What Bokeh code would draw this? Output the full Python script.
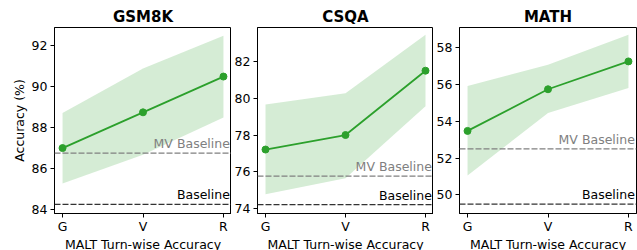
from bokeh.plotting import figure
from bokeh.layouts import row
from bokeh.models import FixedTicker, Span, Range1d, Label
from bokeh.embed import file_html
from bokeh.resources import INLINE

x_labels = ["G", "V", "R"]
x_pos = [0, 1, 2]

titles = ["GSM8K", "CSQA", "MATH"]

gsm8k_mean = [87.0, 88.75, 90.5]
gsm8k_lo = [85.27, 86.68, 88.5]
gsm8k_hi = [88.72, 90.9, 92.5]
gsm8k_mv = 86.75
gsm8k_base = 84.25

csqa_mean = [77.21, 78.0, 81.5]
csqa_lo = [74.78, 75.65, 79.57]
csqa_hi = [79.66, 80.27, 83.45]
csqa_mv = 75.76
csqa_base = 74.21

math_mean = [53.47, 55.73, 57.24]
math_lo = [51.05, 54.44, 55.8]
math_hi = [55.9, 57.06, 58.69]
math_mv = 52.5
math_base = 49.5

y_ranges = [(83.8, 92.9), (73.73, 83.85), (48.99, 59.08)]
y_ticks = [[84, 86, 88, 90, 92], [74, 76, 78, 80, 82], [50, 52, 54, 56, 58]]

datasets = [
    (gsm8k_mean, gsm8k_lo, gsm8k_hi, gsm8k_mv, gsm8k_base),
    (csqa_mean, csqa_lo, csqa_hi, csqa_mv, csqa_base),
    (math_mean, math_lo, math_hi, math_mv, math_base),
]

GREEN = "#2ca02c"
FONT = "DejaVu Sans"
frame_widths = [177, 176, 177]
left_borders = [54, 26, 26]
right_borders = [0, 0, 1]

figs = []
for i, (title, (mean, lo, hi, mv, base)) in enumerate(zip(titles, datasets)):
    p = figure(
        output_backend="svg", toolbar_location=None,
        frame_width=frame_widths[i], frame_height=186,
        min_border_left=left_borders[i],
        min_border_right=right_borders[i],
        min_border_top=27, min_border_bottom=36,
        x_range=Range1d(-0.1, 2.1),
        y_range=Range1d(*y_ranges[i]),
        title=title,
    )
    p.title.align = "center"
    p.title.text_font = FONT
    p.title.text_font_size = "15px"
    p.title.text_font_style = "bold"
    p.title.text_color = "black"
    p.title.standoff = 3
    p.title.offset = 0

    p.varea(x=x_pos, y1=lo, y2=hi, fill_color=GREEN, fill_alpha=0.2)
    p.line(x_pos, mean, line_color=GREEN, line_width=1.8)
    p.scatter(x_pos, mean, size=7, fill_color=GREEN, line_color=GREEN)

    p.add_layout(Span(location=mv, dimension="width", line_color="#808080",
                      line_dash="6 2", line_width=1.3))
    p.add_layout(Span(location=base, dimension="width", line_color="#333333",
                      line_dash="6 2", line_width=1.3))

    p.add_layout(Label(x=2.08, y=mv, text="MV Baseline", text_align="right",
                       text_baseline="bottom", y_offset=2, text_color="#808080",
                       text_font=FONT, text_font_size="12.5px"))
    p.add_layout(Label(x=2.08, y=base, text="Baseline", text_align="right",
                       text_baseline="bottom", y_offset=2, text_color="black",
                       text_font=FONT, text_font_size="12.5px"))

    p.xgrid.visible = False
    p.ygrid.visible = False
    p.outline_line_color = "black"
    p.outline_line_width = 1

    p.xaxis.ticker = FixedTicker(ticks=x_pos)
    p.xaxis.major_label_overrides = {k: v for k, v in zip(x_pos, x_labels)}
    p.yaxis.ticker = FixedTicker(ticks=y_ticks[i])
    for ax in (p.xaxis, p.yaxis):
        ax.minor_tick_line_color = None
        ax.major_tick_out = 4
        ax.major_tick_in = 0
        ax.major_tick_line_color = "black"
        ax.axis_line_color = "black"
        ax.major_label_text_font = FONT
        ax.major_label_text_font_size = "12.5px"
        ax.major_label_text_color = "black"
        ax.axis_label_text_font = FONT
        ax.axis_label_text_font_size = "12.5px"
        ax.axis_label_text_font_style = "normal"
        ax.axis_label_text_color = "black"
    p.yaxis.major_label_standoff = 3
    p.yaxis.axis_label_standoff = 2
    p.xaxis.major_label_standoff = 1
    p.xaxis.axis_label_standoff = 0
    p.xaxis.axis_label = "MALT Turn-wise Accuracy"
    if i == 0:
        p.yaxis.axis_label = "Accuracy (%)"
    figs.append(p)

layout = row(*figs, spacing=0)
open("out.html", "w").write(file_html(layout, INLINE))
